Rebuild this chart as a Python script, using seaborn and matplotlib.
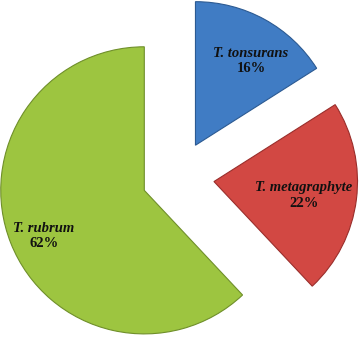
import matplotlib
matplotlib.use('Agg')
import matplotlib.pyplot as plt
import seaborn as sns

# data
species = ["T. tonsurans", "T. metagraphyte", "T. rubrum"]
shares = [16, 22, 62]

# style / layout
colors = ["#407cc4", "#d24843", "#9dc540"]
edge_colors = ["#2c5a92", "#9a2e2b", "#6f8f2a"]
label_pos = [(0.503, 0.80), (0.869, -0.125), (-0.924, -0.405)]

sns.set_theme(style="white")
plt.rcParams['font.family'] = ['Liberation Serif', 'DejaVu Serif']

fig = plt.figure(figsize=(3.59, 3.37), dpi=100)
ax = fig.add_axes([0, 0, 1, 1])

wedges, _ = ax.pie(shares, colors=colors, startangle=90, counterclock=False,
                   explode=[0.25] * len(shares), radius=0.99,
                   wedgeprops=dict(linewidth=0.8))
for w, ec in zip(wedges, edge_colors):
    w.set_edgecolor(ec)

for name, val, (x, y) in zip(species, shares, label_pos):
    ax.text(x, y + 0.052, name, ha='center', va='center', fontsize=10.5,
            fontweight='bold', fontstyle='italic', color='#111111')
    ax.text(x, y - 0.055, f"{val}%", ha='center', va='center', fontsize=10.5,
            fontweight='bold', color='#111111')

ax.set_xlim(-178 / 145, (359 - 178) / 145)
ax.set_ylim(-(337 - 177) / 145, 177 / 145)
ax.set_aspect('auto')
ax.axis('off')

fig.savefig('out.png', dpi=100, facecolor='white')
plt.close(fig)
